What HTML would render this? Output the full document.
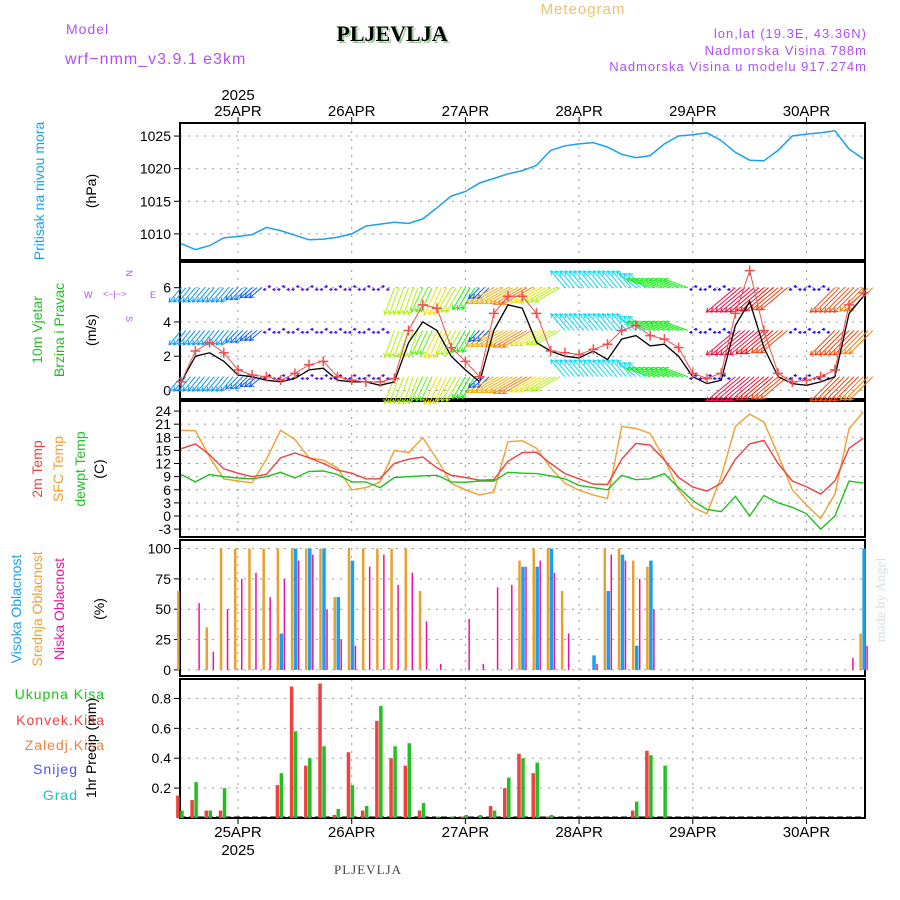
<!DOCTYPE html>
<html><head><meta charset="utf-8">
<style>
html,body{margin:0;padding:0;background:#fff;}
svg{display:block;font-family:"Liberation Sans",sans-serif;}
</style></head>
<body>
<svg id="chart" width="900" height="900" viewBox="0 0 900 900" xmlns="http://www.w3.org/2000/svg">
<g>
<text x="583" y="14" font-size="15" fill="#f0c070" text-anchor="middle" letter-spacing="1">Meteogram</text>
<text x="66" y="34" font-size="14" fill="#b050f0" letter-spacing="1">Model</text>
<text x="65" y="64" font-size="16" fill="#b050f0" letter-spacing="1">wrf−nmm_v3.9.1  e3km</text>
<text x="394" y="43" font-size="22" font-weight="bold" font-family="Liberation Serif,serif" fill="#9c9" text-anchor="middle">PLJEVLJA</text>
<text x="392" y="41" font-size="22" font-weight="bold" font-family="Liberation Serif,serif" fill="#000" text-anchor="middle">PLJEVLJA</text>
<text x="867" y="38" font-size="13" fill="#b050f0" text-anchor="end" letter-spacing="1">lon,lat (19.3E, 43.36N)</text>
<text x="867" y="55" font-size="13" fill="#b050f0" text-anchor="end" letter-spacing="1">Nadmorska Visina 788m</text>
<text x="867" y="71" font-size="13" fill="#b050f0" text-anchor="end" letter-spacing="1">Nadmorska Visina u modelu 917.274m</text>
</g>
<g id="axes"></g>
<g id="marks"></g>
<g font-size="14">
<text transform="translate(44,191) rotate(-90)" fill="#1aa0f0" text-anchor="middle">Pritisak na nivou mora</text>
<text transform="translate(96,191) rotate(-90)" fill="#000" text-anchor="middle">(hPa)</text>
<text transform="translate(42,330) rotate(-90)" fill="#20c020" text-anchor="middle">10m Vjetar</text>
<text transform="translate(64,330) rotate(-90)" fill="#20c020" text-anchor="middle">Brzina i Pravac</text>
<text transform="translate(96,330) rotate(-90)" fill="#000" text-anchor="middle">(m/s)</text>
<g fill="#b050f0" font-size="9">
<text x="84" y="298">W</text><text x="150" y="298">E</text><text x="103" y="297">&lt;−|−&gt;</text>
<text transform="translate(126,270) rotate(90)">N</text><text transform="translate(126,316) rotate(90)">S</text>
</g>
<text transform="translate(42,469) rotate(-90)" fill="#f04040" text-anchor="middle">2m Temp</text>
<text transform="translate(63,469) rotate(-90)" fill="#f0a030" text-anchor="middle">SFC Temp</text>
<text transform="translate(85,469) rotate(-90)" fill="#20c020" text-anchor="middle">dewpt Temp</text>
<text transform="translate(104,469) rotate(-90)" fill="#000" text-anchor="middle">(C)</text>
<text transform="translate(21,609) rotate(-90)" fill="#1aa0f0" text-anchor="middle">Visoka Oblacnost</text>
<text transform="translate(42,609) rotate(-90)" fill="#f0a030" text-anchor="middle">Srednja Oblacnost</text>
<text transform="translate(64,609) rotate(-90)" fill="#f010a0" text-anchor="middle">Niska Oblacnost</text>
<text transform="translate(104,609) rotate(-90)" fill="#000" text-anchor="middle">(%)</text>
<text x="105" y="699" fill="#20c020" text-anchor="end" letter-spacing="1">Ukupna Kisa</text>
<text x="105" y="725" fill="#f04040" text-anchor="end" letter-spacing="1">Konvek.Kisa</text>
<text x="105" y="750" fill="#f08040" text-anchor="end" letter-spacing="1">Zaledj.Kisa</text>
<text x="78" y="774" fill="#5050f0" text-anchor="end" letter-spacing="1">Snijeg</text>
<text x="78" y="800" fill="#20c0c0" text-anchor="end" letter-spacing="1">Grad</text>
<text transform="translate(96,748) rotate(-90)" fill="#000" text-anchor="middle">1hr Precip (mm)</text>
<text transform="translate(885,600) rotate(-90)" fill="#d8e0d8" font-family="Liberation Serif,serif" text-anchor="middle">made by Angel</text>
<text x="368" y="874" font-size="13" font-family="Liberation Serif,serif" fill="#444" text-anchor="middle" letter-spacing="1">PLJEVLJA</text>
</g>
</svg>
<script>
// ---- data (3-hourly from 24APR 12Z) ----
const hours=[];for(let i=0;i<49;i++)hours.push(-12+3*i);
const dayLabels=["25APR","26APR","27APR","28APR","29APR","30APR"];
const dayTicks=[0,1,2,3,4,5];
const pressure=[1008.5,1007.6,1008.2,1009.4,1009.6,1009.9,1011,1010.5,1009.8,1009.1,1009.2,1009.5,1010,1011.2,1011.5,1011.8,1011.6,1012.3,1014,1015.8,1016.5,1017.8,1018.5,1019.2,1019.7,1020.5,1022.8,1023.5,1023.8,1024,1023.3,1022.2,1021.7,1022,1023.8,1025,1025.2,1025.5,1024.3,1022.5,1021.3,1021.2,1022.8,1025,1025.3,1025.5,1025.8,1023,1021.5];
const pressTicks=[1010,1015,1020,1025];
const windSpeed=[0.5,2,2.2,1.7,0.9,0.8,0.6,0.5,0.7,1.2,1.3,0.6,0.5,0.5,0.3,0.5,2.8,4,3.5,2,1.2,0.5,3.5,5,4.8,2.8,2.3,2,1.9,2.3,1.8,3,3.2,2.6,2.7,2,0.8,0.4,0.6,3.8,5.2,2.5,0.8,0.4,0.3,0.5,0.8,4.5,5.5];
const windGust=[0.5,2.3,2.8,2.2,1.2,0.9,0.8,0.6,1,1.5,1.7,0.8,0.6,0.5,0.5,0.7,3.5,5,4.8,2.5,1.7,0.8,4.5,5.5,5.5,4.5,2.3,2.2,2.1,2.4,2.7,3.5,3.8,3.2,3,2.5,1,0.7,1,4.5,7,3.5,1,0.5,0.6,0.8,1.2,5,5.7];
const windTicks=[0,2,4,6];
const arrowSpeed=[4,4,4,4,3.5,3,1.5,1.5,1.5,1.5,1.5,1.5,1.5,1.5,1.5,7,7,6.5,7.5,7,6,3,8,8,8.5,7.5,7,5,5,5,5,5,5,6,6,6,2,2,2,10,10,9.5,9,2,2,2,9,9,8.5];
const arrowDir=[40,40,40,40,45,50,80,80,80,80,80,80,80,80,80,20,20,25,25,30,30,45,60,60,60,60,60,140,140,140,140,140,130,110,110,110,80,80,80,50,50,50,50,80,80,80,45,45,45];
const t2m=[15.4,16.5,14,10.8,9.8,9,9.5,13.3,14.4,13.3,12,10.5,9.8,8.5,8.5,12,13,13.5,11,9.3,8.8,8.2,8.3,12.5,14.5,14.6,12,9.7,8.5,7.3,7.2,13,16.6,16.2,12.8,8.8,6.6,5.7,7.5,13,16.5,17.3,12,8,6.7,5,8,15.5,17.8];
const tsfc=[19.6,19.5,13.5,8.5,8,7.6,13,19.6,17.5,13.3,12.8,11,6,6.5,7.8,15,14.5,17.9,13,7.5,6,4.8,5.5,17,17.2,15.5,11,7.5,5.9,4.8,4,20.5,20,18.9,13,6,2,0.5,9,20.5,23.3,21.5,14,6,2.5,-0.6,5,20,23.8];
const tdew=[9.5,7.8,9.5,9,8.7,8.5,9,10,8.7,10.2,10.3,9.5,7.8,7.8,6.5,8.8,9,9.2,9.3,7.8,7.7,8,8,10,9.8,9.7,9.2,8.5,7,6.5,6,9.3,8.3,8.5,9.7,6.5,3.5,1.5,1,4.5,0,4.7,3,2,0.5,-3,0,8,7.5];
const tempTicks=[-3,0,3,6,9,12,15,18,21,24];
const cloudHigh=[0,0,0,0,0,0,0,30,100,100,100,60,90,0,0,0,0,0,0,0,0,0,0,0,85,85,100,0,0,12,65,95,20,90,0,0,0,0,0,0,0,0,0,0,0,0,0,0,100];
const cloudMid=[65,0,35,100,100,100,100,100,100,100,100,60,100,100,100,100,100,65,0,0,0,0,0,0,90,100,100,65,0,0,100,100,90,85,0,0,0,0,0,0,0,0,0,0,0,0,0,0,30];
const cloudLow=[0,55,15,50,75,80,60,75,90,95,50,25,20,85,95,70,80,40,5,0,42,5,68,70,85,90,80,30,0,5,95,90,75,50,0,0,0,0,0,0,0,0,0,0,0,0,0,10,20];
const cloudTicks=[0,25,50,75,100];
const precipTotal=[0.05,0.24,0.05,0.2,0,0,0,0.3,0.58,0.4,0.48,0.06,0.22,0.08,0.75,0.48,0.5,0.1,0.01,0.01,0.02,0.02,0.05,0.27,0.4,0.37,0.02,0,0,0,0,0,0.11,0.42,0.35,0,0,0,0,0,0,0,0,0,0,0,0,0,0];
const precipConv=[0.15,0.12,0.05,0.05,0,0,0,0.22,0.88,0.35,0.9,0.02,0.44,0.05,0.65,0.4,0.35,0.05,0,0,0.01,0,0.08,0.2,0.43,0.3,0.01,0,0,0,0,0,0.05,0.45,0,0,0,0,0,0,0,0,0,0,0,0,0,0,0];
const precipTicks=[0.2,0.4,0.6,0.8];

// ---- scales ----
const L=180,R=865;
const X=h=>238+113.7*h/24;
const panels={p:[123,260,1006,1027],w:[262,399,-0.5,7.5],t:[401,537,-4.8,26.3],c:[540,676,-5,107],r:[679,818,0,0.93]};
function yS(k){const [t,b,lo,hi]=panels[k];return v=>b-(v-lo)/(hi-lo)*(b-t);}
const Yp=yS('p'),Yw=yS('w'),Yt=yS('t'),Yc=yS('c'),Yr=yS('r');
const NS="http://www.w3.org/2000/svg";
const axes=document.getElementById('axes'),marks=document.getElementById('marks');
function el(tag,attrs,parent){const e=document.createElementNS(NS,tag);for(const k in attrs)e.setAttribute(k,attrs[k]);parent.appendChild(e);return e;}
function txt(s,attrs,parent){const e=el('text',attrs,parent);e.textContent=s;return e;}

const panelTicks={p:[pressTicks,Yp,v=>v],w:[windTicks,Yw,v=>v],t:[tempTicks,Yt,v=>v],c:[cloudTicks,Yc,v=>v],r:[precipTicks,Yr,v=>v.toFixed(1)]};
for(const k in panels){
  const [t,b]=panels[k];
  const g=el('g',{},axes);
  
  
  const [ticks,Y,f]=panelTicks[k];
  ticks.forEach(v=>{
    const y=Y(v);
    const gl=el('line',{x1:L,x2:R,y1:y,y2:y,stroke:'#999','stroke-dasharray':'2,6'},g);
    
    
    el('line',{x1:L-6,x2:L,y1:y,y2:y,stroke:'#000'},g);
    const tl=txt(f(v),{x:L-9,y:y+5,'font-size':14,'text-anchor':'end',fill:'#000'},g);
    
    
  });
  dayTicks.forEach(d=>{
    const x=X(d*24);
    const vl=el('line',{x1:x,x2:x,y1:t,y2:b,stroke:'#999','stroke-dasharray':'2,6'},g);
    
    
  });
  const fr=el('rect',{x:L,y:t,width:R-L,height:b-t,fill:'none',stroke:'#000','stroke-width':2},g);
  
  
}
el('line',{x1:L,x2:R,y1:Yr(0)-1,y2:Yr(0)-1,stroke:'#000','stroke-dasharray':'6,3'},axes);
dayTicks.forEach((d,i)=>{
  const x=X(d*24);
  el('line',{x1:x,x2:x,y1:117,y2:123,stroke:'#000'},axes);
  el('line',{x1:x,x2:x,y1:818,y2:824,stroke:'#000'},axes);
  const a=txt(dayLabels[i],{x:x,y:116,'font-size':15,'text-anchor':'middle'},axes);
  
  
  const b=txt(dayLabels[i],{x:x,y:837,'font-size':15,'text-anchor':'middle'},axes);
  
  
});
txt('2025',{x:X(0),y:100,'font-size':15,'text-anchor':'middle'},axes);
txt('2025',{x:X(0),y:855,'font-size':15,'text-anchor':'middle'},axes);

function line(arr,Y,color,name,w){
  const d=arr.map((v,i)=>(i?'L':'M')+X(hours[i]).toFixed(1)+','+Y(v).toFixed(1)).join('');
  const p=el('path',{d:d,fill:'none',stroke:color,'stroke-width':w||1.3},marks);
  
  
}
line(pressure,Yp,'#1aa0f0','pressure-line',1.5);

function arrowColor(s){
  const hue=s<=1?270:s<=3?270-(s-1)*25:s<=5?220-(s-3)*17:s<=6?185-(s-5)*65:s<=7.5?120-(s-6)*43:s<=8.5?55-(s-7.5)*25:s<=9.5?30-(s-8.5)*30:360-(s-9.5)*30;
  return 'hsl('+hue+',90%,50%)';
}
const rows=[6,3.5,0.8];
rows.forEach((rv,ri)=>{
  const y0=Yw(rv);
  const g=el('g',{},marks);
  
  
  arrowSpeed.forEach((s,i)=>{
    const c=arrowColor(s);
    const len=s<2.5?3:6+s*3.2;
    const a=arrowDir[i]*Math.PI/180;
    for(let k=0;k<3;k++){
      const x0=X(hours[i])+k*4.7;
      const yb=y0+(s<2.5?((k%2)?-1.5:1.5):0);
      const dx=-Math.sin(a)*len,dy=Math.cos(a)*len;
      const x1=x0+dx,y1=yb+dy;
      const ux=dx/len,uy=dy/len;
      const hl=s<2.5?2:4;
      const hx1=x1-ux*hl-uy*hl*0.6,hy1=y1-uy*hl+ux*hl*0.6,hx2=x1-ux*hl+uy*hl*0.6,hy2=y1-uy*hl-ux*hl*0.6;
      const ar=el('path',{d:`M${x0},${yb}L${x1},${y1}M${hx1},${hy1}L${x1},${y1}L${hx2},${hy2}`,stroke:c,'stroke-width':1,fill:'none'},g);
      
      
    }
  });
});
line(windSpeed,Yw,'#000','wind-speed-line',1.3);
line(windGust,Yw,'#f05050','wind-gust-line',1);
windGust.forEach((v,i)=>{
  const x=X(hours[i]),y=Yw(v);
  const m=el('path',{d:`M${x-5},${y}H${x+5}M${x},${y-5}V${y+5}`,stroke:'#f05050','stroke-width':1.5},marks);
  
  
});

line(tsfc,Yt,'#f0a030','sfc-temp-line',1.4);
line(t2m,Yt,'#f04040','temp-2m-line',1.4);
line(tdew,Yt,'#20c020','dewpoint-line',1.4);

function bars(arr,Y,color,off,w,name){
  arr.forEach((v,i)=>{
    if(v<=0)return;
    const x=X(hours[i])+off,y=Y(v),y0=Y(0);
    const r=el('rect',{x:x,y:Math.min(y,y0),width:w,height:Math.abs(y0-y),fill:color},marks);
    
    
  });
}
bars(cloudMid,Yc,'#e8a030',-4,2.5,'mid-cloud-bar');
bars(cloudHigh,Yc,'#1aa0f0',-1,3.5,'high-cloud-bar');
bars(cloudLow,Yc,'#f010a0',3,1.5,'low-cloud-bar');
bars(precipTotal,Yr,'#20c020',-1,3.5,'total-precip-bar');
bars(precipConv,Yr,'#f04040',-5,3.5,'convective-precip-bar');
</script>
</body></html>
